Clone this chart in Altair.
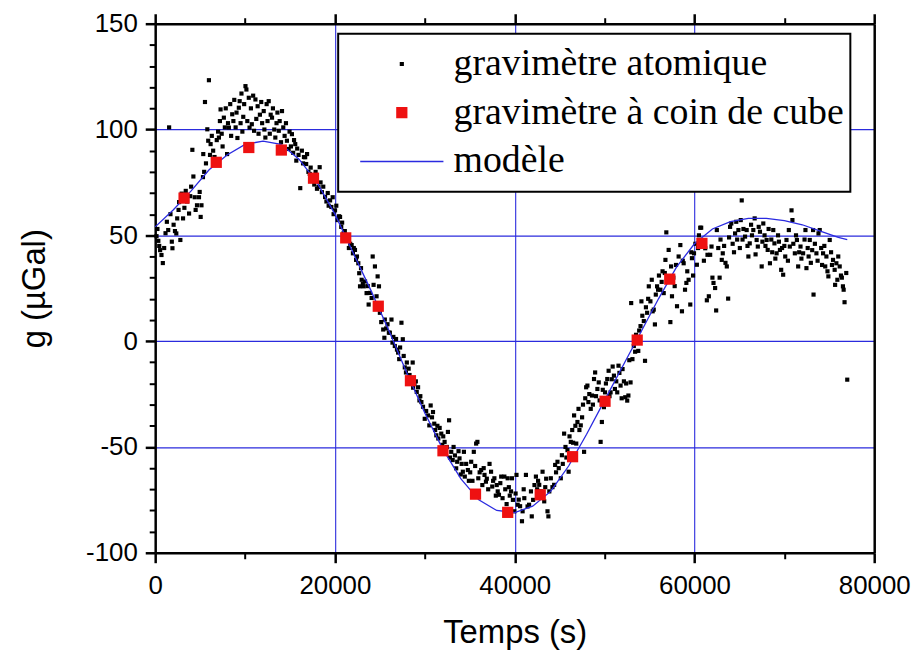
import altair as alt
import pandas as pd

# ---------------- data ----------------
SER_ATOM = "gravimètre atomique"
SER_CUBE = "gravimètre à coin de cube"
SER_MODEL = "modèle"
series_names = [SER_ATOM, SER_CUBE, SER_MODEL]

# corner-cube gravimeter (red squares)
cube_t = [3213, 6795, 10415, 14035, 17615, 21200, 24820, 28400, 32020, 35640,
          39220, 42840, 46440, 50050, 53630, 57250, 60830]
cube_g = [67.6, 84.5, 91.5, 90.3, 77.0, 48.8, 16.5, -18.7, -51.8, -72.3,
          -80.9, -72.6, -54.6, -28.4, 0.5, 29.3, 46.2]

# tide model (blue line)
model_t = [0, 2000, 4000, 6000, 8000, 10000, 12000, 14000, 16000, 18000,
           20000, 22000, 24000, 26000, 28000, 30000, 32000, 34000, 36000, 38000,
           40000, 42000, 44000, 46000, 48000, 50000, 52000, 54000, 56000, 58000,
           60000, 62000, 64000, 66000, 68000, 70000, 72000, 74000, 76000, 77000]
model_g = [54, 62, 71, 81, 88, 93, 94.5, 93, 86, 75,
           60, 42, 24, 5, -15, -34, -51, -65, -75, -80,
           -81, -78, -71, -59, -44, -28, -12, 4, 20, 35,
           46, 53, 56.5, 58, 58, 57, 55, 52, 49, 48]

# atomic gravimeter (black dots)
atom_t = (
    [150, 250, 350, 450, 550, 700, 850, 1000, 1150, 1300, 1450, 1550, 1700, 1850, 1920, 2050, 2200, 2350, 2450, 2600, 2660, 2800, 2950]
    + [3100, 3250, 3400, 3550, 3770, 3900, 4000, 4136, 4250, 4400, 4500, 4650, 4874, 4950, 5060, 5150, 5316, 5350, 5450, 5540, 5650, 5800, 5900, 5980]
    + [6100, 6167, 6300, 6450, 6600, 6720, 6850, 7000, 7090, 7200, 7275, 7400, 7500, 7640, 7750, 7850, 8000, 8100, 8200, 8350, 8450, 8570, 8700, 8800, 8950, 9050, 9150, 9306, 9400, 9500, 9600, 9700, 9800, 9900, 10045]
    + [10150, 10250, 10414, 10500, 10650, 10750, 10900, 11000, 11153, 11250, 11400, 11500, 11650, 11800, 11900, 12075, 12150, 12260, 12400, 12500, 12630, 12750, 12850, 13000, 13100, 13250, 13368, 13500, 13600, 13750, 13850, 14000, 14110, 14250, 14400]
    + [14550, 14660, 14850, 14950, 15100, 15215, 15350, 15450, 15584, 15700, 15800, 15950, 16140, 16320, 16450, 16550, 16690, 16800, 16900, 17050, 17200, 17300, 17430, 17550, 17700, 17850, 18000, 18170, 18300, 18400, 18550, 18700, 18900, 19050, 19200, 19300, 19460, 19600, 19750, 19850, 20010, 20150, 20300, 20450, 20570, 20700, 20800, 20950]
    + [21100, 21250, 21400, 21550, 21700, 21860, 22000, 22100, 22230, 22350, 22450, 22600, 22700, 22790, 22900, 22970, 23100, 23200, 23350, 23520, 23650, 23750, 23900, 24080, 24200, 24300, 24450, 24630, 24750, 24900]
    + [25000, 25150, 25370, 25500, 25550, 25700, 25850, 26000, 26110, 26290, 26400, 26500, 26660, 26800, 26900, 27030, 27150, 27250, 27400, 27550, 27650, 27770, 27900, 28000, 28200, 28300, 28510, 28650, 28700, 28850, 29000, 29100, 29250, 29400, 29500, 29620, 29800, 29990]
    + [30150, 30360, 30500, 30650, 30800, 30910, 31050, 31150, 31280, 31400, 31500, 31650, 31830, 31950, 32050, 32200, 32350, 32450, 32570, 32700, 32800, 32940, 33100, 33200, 33350, 33490, 33600, 33750, 33860, 34000, 34100, 34230, 34350, 34450, 34600, 34790, 34900]
    + [35050, 35160, 35300, 35450, 35600, 35710, 35850, 35950, 36100, 36270, 36400, 36550, 36640, 36800, 36900, 37050, 37200, 37370, 37500, 37600, 37740, 37900, 38000, 38110, 38250, 38400, 38500, 38650, 38850, 38950, 39100, 39220, 39350, 39450, 39590, 39700, 39800, 39960]
    + [40100, 40200, 40330, 40450, 40600, 40810, 40880, 41000, 41070, 41250, 41430, 41600, 41810, 41900, 42050, 42200, 42360, 42500, 42600, 42730, 42900, 43000, 43100, 43285, 43400, 43500, 43650, 43750, 43850, 44020, 44200, 44390, 44500, 44600, 44760, 44900]
    + [45130, 45250, 45350, 45500, 45650, 45750, 45870, 46000, 46100, 46240, 46400, 46500, 46610, 46750, 46850, 46980, 47100, 47200, 47350, 47500, 47600, 47720, 47850, 47950, 48090, 48200, 48300, 48460, 48600, 48700, 48825, 48950, 49050, 49200, 49350, 49450, 49560, 49700, 49800, 49930]
    + [50050, 50150, 50300, 50450, 50550, 50670, 50800, 50900, 51040, 51150, 51300, 51410, 51550, 51650, 51780, 51900, 52000, 52150, 52300, 52400, 52520, 52650, 52750, 52890, 52960, 53100, 53255, 53400, 53500, 53630, 53750, 53850, 54000, 54100, 54200, 54365, 54500, 54600, 54735, 54850, 54920]
    + [55100, 55250, 55350, 55470, 55600, 55700, 55840, 55950, 56050, 56210, 56350, 56450, 56580, 56700, 56770, 56870, 57000, 57130, 57320, 57400, 57500, 57650, 57800, 57950, 58060, 58240, 58430, 58610, 58700, 58800, 58950, 59100, 59200, 59350, 59535, 59650, 59720, 59850, 59950]
    + [60100, 60270, 60400, 60500, 60640, 60750, 60900, 61050, 61200, 61380, 61450, 61600, 61750, 61900, 62000, 62120, 62300, 62415, 62490, 62650, 62800, 62900, 63040, 63150, 63300, 63450, 63600, 63750, 63850, 63965, 64100, 64250, 64400, 64520, 64650, 64750, 64890]
    + [65050, 65150, 65260, 65350, 65450, 65630, 65810, 65900, 66000, 66150, 66300, 66400, 66550, 66700, 66800, 66920, 67050, 67150, 67290, 67480, 67560, 67660, 67800, 67900, 68030, 68150, 68250, 68400, 68550, 68650, 68770, 68900, 69000, 69140, 69300, 69400, 69510, 69650, 69750, 69870]
    + [70000, 70100, 70240, 70400, 70500, 70610, 70800, 70900, 71000, 71170, 71300, 71400, 71540, 71650, 71800, 71900, 72090, 72250, 72350, 72460, 72600, 72700, 72830, 72950, 73100, 73200, 73250, 73400, 73570, 73700, 73800, 73940, 74100, 74200, 74310, 74450, 74550, 74680, 74800, 74900, 75050, 75200, 75300, 75420, 75600, 75650, 75790, 75900, 76000, 76160, 76300, 76400, 76520, 76600, 76700, 76890, 77000]
)
atom_g = (
    [49.6, 53, 47.4, 45, 43, 40.7, 36.9, 44, 51, 56.4, 52.5, 101, 60, 47, 43.9, 55, 52, 50.9, 58, 62, 65.7, 47.8, 69.7]
    + [58, 63, 71, 66, 60.3, 68.5, 73, 90.4, 77.8, 68, 62, 64.2, 68, 70.5, 58.7, 64.2, 77.5, 88.4, 80, 113, 84, 100.1, 94.7, 123.3]
    + [88, 93.1, 97, 90, 87, 85.3, 95, 99, 96.2, 104, 109.5, 98, 92, 105.6, 101, 110, 88.4, 103, 100.9, 112, 97, 107.2, 104, 114, 101, 108, 96, 110.3, 113.4, 103, 117, 99, 106, 112, 120.5]
    + [118.9, 104, 115, 100.9, 110, 102.5, 116, 99.4, 114.2, 105, 111, 98, 107, 113, 103, 108.7, 100, 96.2, 112, 104, 113.4, 98, 107, 105.6, 110, 100, 96.2, 103, 108, 99.4, 104, 94, 108.7, 101, 97]
    + [103, 94.7, 90.8, 99, 92, 97.8, 89, 95, 93.1, 85.3, 91, 88, 72.3, 90, 84, 87, 86.9, 83.7, 88.4, 80, 79, 82, 76.7, 78, 74, 80, 72, 72.8, 82.2, 75, 70.4, 73, 68.1, 66, 70, 64, 66.5, 63.4, 68, 60, 61.8, 64, 57.2, 59, 58.7, 54, 56, 50.9]
    + [52, 47.8, 49, 44, 46, 45.4, 41.5, 44, 43.1, 38.4, 40, 36.8, 32.1, 25.9, 34.5, 29, 27, 25.9, 28.2, 22.7, 26, 17.3, 22.8, 20.4, 40, 26.6, 35.3, 21.2, 30.6, 25.9]
    + [13.4, 9, 5.5, 1.6, 10.2, 6, 8, 4, 4, 10.2, -0.7, 2, -2.3, 1, -4, -5.4, -8.5, -3, 8.7, 0.9, -7, -12.4, -14.8, -10.1, -13, -16, -17.9, -10.1, -22, -20, -19, -24, -21.8, -28, -26, -28.8, -31, -36.7]
    + [-33, -35.1, -39.8, -30.4, -36, -33.5, -39, -42, -44.5, -40, -46, -41, -43.7, -49, -45, -47.6, -52.3, -50, -42.9, -37.4, -55, -52.3, -56.2, -50, -54, -60.1, -57, -52, -55.4, -63, -58, -61.7, -52.3, -64, -58, -60.9, -66]
    + [-62, -57, -66, -52.3, -59, -48.4, -47.6, -64.8, -62, -60.9, -68, -60, -63.2, -66.4, -65, -70, -58, -61.7, -68.7, -66, -64.8, -73, -68, -71, -72.6, -67.1, -64, -74.2, -64, -70, -77, -64.8, -69, -73, -71, -64.8, -75, -80.4]
    + [-72, -63.2, -77.3, -74.9, -78, -85.1, -80.4, -70, -74.2, -63.2, -78.1, -77.3, -71, -82.8, -75, -68, -64, -70, -66, -67.9, -71, -73, -61.7, -75.7, -69, -65, -80.4, -82.8, -71, -64.8, -69, -67.9, -58.5, -62, -57, -60]
    + [-64.8, -53.9, -58, -43.7, -50, -55, -51.5, -61.7, -45, -47.6, -42, -48, -35.1, -40, -48.4, -38.2, -32, -42, -39.8, -36, -30, -52.3, -27, -21.8, -21, -28.8, -25, -32, -25.7, -30, -17.9, -14.8, -26, -22.6, -19.5, -28, -47.6, -38.2, -23, -31.2]
    + [-24.2, -20, -17.9, -14, -26, -24.2, -18, -12, -16.3, -22.6, -19, -24.2, -11.6, -15, -21, -27, -13.2, -19, -26.5, -20, -28.1, -25.7, -9, -19.5, 18, -8.5, -2.3, -5, 3, 0.1, -4.6, 5, 7.1, 18.8, 12, 9.5, -9.3, 16, 13.4, 20, 25.9]
    + [18.8, 29, 14.1, 14.9, 7.9, 22, 25.9, 24.3, 31, 24.3, 28, 33, 22.7, 32.2, 38.4, 51.4, 29, 43.1, 9, 35.3, 21.2, 30, 26, 36, 16.5, 40, 45.4, 14.1, 38, 36.8, 24.3, 27.5, 33, 29, 17.3, 42, 39.2, 31, 41.5]
    + [46, 36.1, 44, 50, 53.6, 53.6, 47, 38, 43.9, 19.3, 40.8, 21.2, 40.8, 44.7, 30, 27.5, 25.1, 14.5, 52.5, 44, 30, 48, 38.4, 41.5, 45, 37, 35.3, 20.1, 49, 54, 55.6, 46, 42, 50.9, 56.4, 48, 52.5]
    + [44, 57.2, 66.5, 48, 53, 49.4, 52.5, 45, 40, 46.2, 55, 50, 52.5, 58, 41, 47.8, 44.7, 54, 51.7, 35.3, 47, 55.6, 50, 45, 47.8, 43.1, 53, 36.8, 48, 42, 52.5, 46.2, 39, 41.5, 50, 47, 43.1, 33.7, 44, 31.4]
    + [45, 40, 47.8, 38, 52.5, 44.7, 61.8, 57.2, 46, 41.5, 50, 47.8, 35.3, 42, 44.7, 39, 41.5, 48, 52.5, 34.5, 44, 40, 47.8, 37, 43, 52.5, 22, 46, 41.5, 38, 50.9, 52.5, 44, 36, 41.5, 45, 35.3, 40, 33, 30.6, 47.8, 42, 36, 38.4, 33.7, 26.6, 36.8, 29, 40, 35.3, 31, 30, 25.9, 24.3, 18.4, 32.2, -18.2]
)

# axis ticks
x_major = [0, 20000, 40000, 60000, 80000]
x_minor = [10000, 30000, 50000, 70000]
x_grid = [20000, 40000, 60000]
y_major = [-100, -50, 0, 50, 100, 150]
y_minor = [-90, -80, -70, -60, -40, -30, -20, -10, 10, 20, 30, 40, 60, 70, 80, 90,
           110, 120, 130, 140]
y_grid = [-50, 0, 50, 100]

# ---------------- styles ----------------
series_colors = ["#000000", "#ee1111", "#2a2ae0"]
series_shapes = [
    "M-0.05,-0.05L0.05,-0.05L0.05,0.05L-0.05,0.05Z",
    "M-0.135,-0.135L0.135,-0.135L0.135,0.135L-0.135,0.135Z",
    "M-1,-0.018L1,-0.018L1,0.018L-1,0.018Z",
]
SANS = "Liberation Sans"
SERIF = "Liberation Serif"
GRID = "#2b2bdd"

atom_df = pd.DataFrame({"t": atom_t, "g": atom_g, "series": SER_ATOM})
cube_df = pd.DataFrame({"t": cube_t, "g": cube_g, "series": SER_CUBE})
model_df = pd.DataFrame({"t": model_t, "g": model_g})

xs = alt.Scale(domain=[0, 80000], nice=False, zero=False)
ys = alt.Scale(domain=[-100, 150], nice=False, zero=False)

leg = alt.Legend(title=None, orient="none", legendX=184, legendY=10)
color_enc = alt.Color("series:N", scale=alt.Scale(domain=series_names, range=series_colors), legend=leg)
shape_enc = alt.Shape("series:N", scale=alt.Scale(domain=series_names, range=series_shapes), legend=leg)

axA = alt.Axis(orient="bottom", values=x_major, format="d", title="Temps (s)", grid=False,
               tickSize=10, tickWidth=2.5, tickColor="black", domainColor="black", domainWidth=2.5,
               labelFont=SANS, labelFontSize=26, labelColor="black", labelPadding=10,
               labelOverlap=False, labelFlush=False,
               titleFont=SANS, titleFontSize=33, titleFontWeight="normal", titleColor="black",
               titlePadding=18)
axB = alt.Axis(orient="bottom", values=x_minor, labels=False, domain=False, grid=False,
               tickSize=6, tickWidth=2, tickColor="black", title=None)
axC = alt.Axis(orient="top", values=x_major, labels=False, domain=True, domainColor="black",
               domainWidth=2.5, grid=False, tickSize=10, tickWidth=2.5, tickColor="black", title=None)
axD = alt.Axis(orient="top", values=x_minor, labels=False, domain=False, grid=False,
               tickSize=6, tickWidth=2, tickColor="black", title=None)
axE = alt.Axis(orient="top", values=x_grid, labels=False, domain=False, ticks=False, grid=True,
               gridColor=GRID, gridWidth=1.1, gridOpacity=1, title=None)
axF = alt.Axis(orient="left", values=y_major, title="g (µGal)", grid=False,
               labelExpr="'' + datum.value",
               tickSize=10, tickWidth=2.5, tickColor="black", domainColor="black", domainWidth=2.5,
               labelFont=SANS, labelFontSize=26, labelColor="black", labelPadding=8,
               labelOverlap=False, labelFlush=False,
               titleFont=SANS, titleFontSize=33, titleFontWeight="normal", titleColor="black",
               titlePadding=34)
axG = alt.Axis(orient="left", values=y_minor, labels=False, domain=False, grid=False,
               tickSize=6, tickWidth=2, tickColor="black", title=None)
axH = alt.Axis(orient="right", values=y_grid, labels=False, ticks=False, domain=True,
               domainColor="black", domainWidth=2.5, grid=True, gridColor=GRID, gridWidth=1.3,
               gridOpacity=1, title=None)

atom_layer = alt.Chart(atom_df).mark_point(filled=True, size=7000, opacity=1).encode(
    x=alt.X("t:Q", scale=xs, axis=axA),
    y=alt.Y("g:Q", scale=ys, axis=axF),
    color=color_enc, shape=shape_enc,
)
model_layer = alt.Chart(model_df).mark_line(color="#2a2ae0", strokeWidth=1.3).encode(
    x=alt.X("t:Q", scale=xs, axis=axC),
    y=alt.Y("g:Q", scale=ys, axis=axH),
)
cube_layer = alt.Chart(cube_df).mark_point(filled=True, size=7000, opacity=1).encode(
    x=alt.X("t:Q", scale=xs, axis=axB),
    y=alt.Y("g:Q", scale=ys, axis=axG),
    color=color_enc, shape=shape_enc,
)
minor_top = alt.Chart(cube_df).mark_point(opacity=0).encode(
    x=alt.X("t:Q", scale=xs, axis=axD),
    y=alt.Y("g:Q", scale=ys, axis=None),
)
grid_x = alt.Chart(cube_df).mark_point(opacity=0).encode(
    x=alt.X("t:Q", scale=xs, axis=axE),
    y=alt.Y("g:Q", scale=ys, axis=None),
)

chart = alt.layer(grid_x, atom_layer, model_layer, cube_layer, minor_top).resolve_axis(
    x="independent", y="independent"
).properties(
    width=723, height=532,
    autosize=alt.AutoSizeParams(type="none"),
    padding={"left": 148, "top": 14, "right": 38, "bottom": 100},
    background="white",
).configure_view(
    strokeWidth=0
).configure_legend(
    labelFont=SERIF, labelFontSize=38, labelColor="black", labelLimit=800, labelOffset=10,
    symbolSize=7000, symbolStrokeWidth=0, symbolOffset=16, clipHeight=49, rowPadding=0,
    padding=6, strokeColor="black", strokeWidth=2, fillColor="white", cornerRadius=0,
)

chart.save("out.html", embed_options={"renderer": "svg", "actions": False})
